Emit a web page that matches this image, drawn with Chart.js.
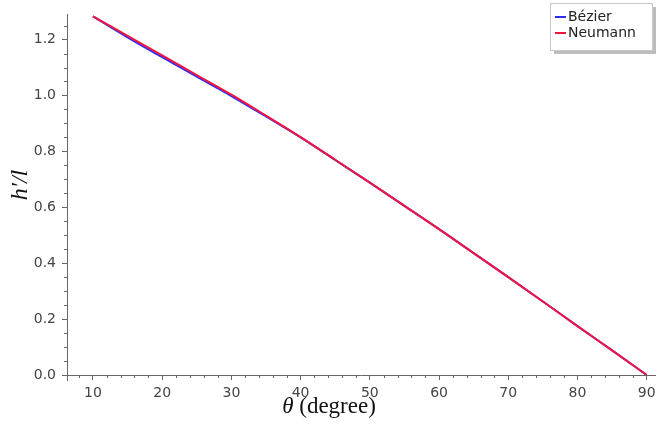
<!DOCTYPE html>
<html>
<head>
<meta charset="utf-8">
<script src="https://cdn.jsdelivr.net/npm/chart.js@4.4.1/dist/chart.umd.min.js"></script>
<style>
html,body{margin:0;padding:0;background:#fff;}
#wrap{position:relative;width:661px;height:438px;}
</style>
</head>
<body>
<div id="wrap"><canvas id="c" width="661" height="438"></canvas></div>
<script>
const theta = [10,15,20,25,30,35,40,45,50,55,60,65,70,75,80,85,90];
const bezier = [1.283,1.208,1.137,1.067,0.998,0.925,0.850,0.769,0.688,0.605,0.522,0.436,0.350,0.263,0.175,0.088,0.0];
const neumann = [1.283,1.213,1.143,1.073,1.003,0.928,0.851,0.770,0.688,0.605,0.522,0.436,0.350,0.263,0.175,0.088,0.0];
const seriesLabels = ['Bézier','Neumann'];
const xTitleItalic = 'θ';
const xTitleRest = ' (degree)';
const yTitle = 'h′/l';

const BLUE = 'rgb(45,45,255)';
const RED = 'rgb(242,22,62)';
const AXIS = '#666';
const TICKTXT = '#444';

const extras = {
  id:'extras',
  afterDraw(chart){
    const ctx = chart.ctx;
    const xs = chart.scales.x, ys = chart.scales.y;
    const ca = chart.chartArea;
    ctx.save();
    ctx.strokeStyle = AXIS; ctx.lineWidth = 1;
    ctx.beginPath();
    for(let v=8; v<=91; v+=2){
      if(v%10===0) continue;
      const px = Math.round(xs.getPixelForValue(v))+0.5;
      ctx.moveTo(px, ca.bottom); ctx.lineTo(px, ca.bottom+3);
    }
    for(let k=1; k<=25; k++){
      const v = k*0.05;
      if(k%4===0) continue;
      if(v>ys.max) break;
      const py = Math.round(ys.getPixelForValue(v))+0.5;
      ctx.moveTo(ca.left, py); ctx.lineTo(ca.left-3, py);
    }
    ctx.moveTo(Math.round(ca.left)+0.5, ca.bottom); ctx.lineTo(Math.round(ca.left)+0.5, ca.bottom+6);
    ctx.stroke();

    ctx.fillStyle = '#111';
    ctx.textBaseline = 'middle';
    const fI = 'italic 23px "Liberation Serif", "DejaVu Serif", serif';
    const fR = '23px "Liberation Serif", "DejaVu Serif", serif';
    ctx.font = fI; const w1 = ctx.measureText(xTitleItalic).width;
    ctx.font = fR; const w2 = ctx.measureText(xTitleRest).width;
    let sx = 329 - (w1+w2)/2;
    ctx.font = fI; ctx.textAlign='left'; ctx.fillText(xTitleItalic, sx, 407);
    ctx.font = fR; ctx.fillText(xTitleRest, sx+w1, 407);

    ctx.save();
    ctx.translate(21, 185);
    ctx.rotate(-Math.PI/2);
    ctx.font = 'italic 24px "Liberation Serif", "DejaVu Serif", serif';
    ctx.textAlign = 'center';
    ctx.fillText(yTitle, 0, 0);
    ctx.restore();

    const lx = 550, ly = 3, lw = 102, lh = 47;
    ctx.fillStyle = '#bdbdbd';
    ctx.fillRect(lx+4, ly+4, lw, lh);
    ctx.fillStyle = '#fff';
    ctx.fillRect(lx, ly, lw, lh);
    ctx.strokeStyle = '#c8c8c8'; ctx.lineWidth = 1;
    ctx.strokeRect(lx+0.5, ly+0.5, lw, lh);
    const cols = [BLUE, RED];
    ctx.font = '14px "DejaVu Sans", sans-serif';
    ctx.textAlign = 'left'; ctx.textBaseline = 'middle';
    for(let i=0;i<seriesLabels.length;i++){
      const yy = 17 + i*16;
      ctx.strokeStyle = cols[i]; ctx.lineWidth = 2;
      ctx.beginPath(); ctx.moveTo(555, yy); ctx.lineTo(566, yy); ctx.stroke();
      ctx.fillStyle = '#222';
      ctx.fillText(seriesLabels[i], 568, yy);
    }
    ctx.restore();
  }
};

new Chart(document.getElementById('c'), {
  type:'line',
  data:{
    labels: theta,
    datasets:[
      {label:seriesLabels[0], order:2, data: theta.map((t,i)=>({x:t,y:bezier[i]})), borderColor:BLUE, borderWidth:2, pointRadius:0, cubicInterpolationMode:'monotone', fill:false},
      {label:seriesLabels[1], order:1, data: theta.map((t,i)=>({x:t,y:neumann[i]})), borderColor:RED, borderWidth:2, pointRadius:0, cubicInterpolationMode:'monotone', fill:false}
    ]
  },
  options:{
    responsive:false, animation:false, devicePixelRatio:1,
    layout:{padding:{top:0,right:6,left:0,bottom:0}},
    plugins:{legend:{display:false}, tooltip:{enabled:false}},
    scales:{
      x:{type:'linear', min:6.25, max:91.2,
        afterFit(s){ s.height = 63; },
        border:{display:true,color:AXIS,width:1},
        grid:{drawOnChartArea:false, drawTicks:true, tickLength:5, tickColor:AXIS},
        ticks:{stepSize:10, includeBounds:false, autoSkip:false, maxRotation:0, padding:5, color:TICKTXT,
          font:{family:'"DejaVu Sans", sans-serif', size:14},
          callback:(v)=> (v%10===0 ? String(v) : '')}
      },
      y:{type:'linear', min:0, max:1.29,
        afterFit(s){ s.width = 67; },
        border:{display:true,color:AXIS,width:1},
        grid:{drawOnChartArea:false, drawTicks:true, tickLength:5, tickColor:AXIS},
        ticks:{stepSize:0.2, includeBounds:false, padding:6, color:TICKTXT,
          font:{family:'"DejaVu Sans", sans-serif', size:14},
          callback:(v)=> v.toFixed(1)}
      }
    }
  },
  plugins:[extras]
});
</script>
</body>
</html>
